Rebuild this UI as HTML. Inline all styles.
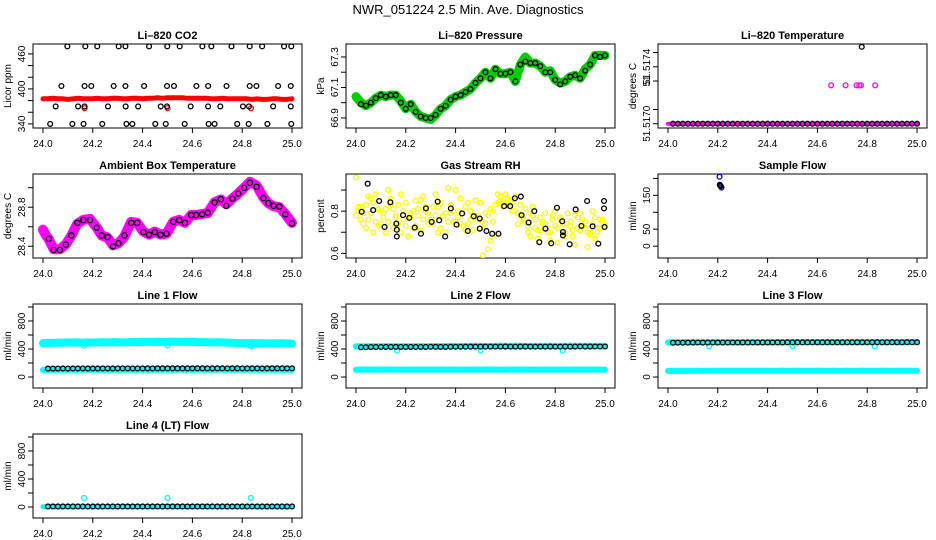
<!DOCTYPE html>
<html><head><meta charset="utf-8"><title>NWR_051224 2.5 Min. Ave. Diagnostics</title>
<style>
html,body{margin:0;padding:0;background:#fff;}
svg{display:block;font-family:"Liberation Sans",Arial,sans-serif;}
</style></head>
<body>
<svg id="chart" width="936" height="540" viewBox="0 0 936 540" xmlns="http://www.w3.org/2000/svg">
<rect width="936" height="540" fill="#fff"/>
<text x="468" y="14" text-anchor="middle" font-size="13">NWR_051224  2.5 Min. Ave. Diagnostics</text>
</svg>
<script>
// ---- data ----
const t51 = [24.00,24.02,24.04,24.06,24.08,24.10,24.12,24.14,24.16,24.18,24.20,24.22,24.24,24.26,24.28,24.30,24.32,24.34,24.36,24.38,24.40,24.42,24.44,24.46,24.48,24.50,24.52,24.54,24.56,24.58,24.60,24.62,24.64,24.66,24.68,24.70,24.72,24.74,24.76,24.78,24.80,24.82,24.84,24.86,24.88,24.90,24.92,24.94,24.96,24.98,25.00];
const tHalf = [24.01,24.03,24.05,24.07,24.09,24.11,24.13,24.15,24.17,24.19,24.21,24.23,24.25,24.27,24.29,24.31,24.33,24.35,24.37,24.39,24.41,24.43,24.45,24.47,24.49,24.51,24.53,24.55,24.57,24.59,24.61,24.63,24.65,24.67,24.69,24.71,24.73,24.75,24.77,24.79,24.81,24.83,24.85,24.87,24.89,24.91,24.93,24.95,24.97,24.99];
const xTicks = [24.0,24.2,24.4,24.6,24.8,25.0];
const xTickLabels = ["24.0","24.2","24.4","24.6","24.8","25.0"];

// CO2
const co2RedV = [383,383,384,383,383,382,383,384,383,383,383,384,383,383,384,384,383,383,384,384,383,384,384,385,384,385,385,385,385,384,384,384,384,384,383,383,384,383,383,383,383,383,382,383,382,382,383,383,382,382,383];
const co2RedOutT = [24.167,24.500,24.835];
const co2RedOutV = [367,367,367];
const co2BlackT = [24.098,24.170,24.218,24.304,24.331,24.426,24.499,24.549,24.640,24.676,24.757,24.830,24.880,24.968,24.997,
 24.074,24.167,24.194,24.284,24.331,24.406,24.498,24.526,24.616,24.663,24.737,24.830,24.857,24.944,24.995,
 24.051,24.141,24.167,24.261,24.332,24.382,24.473,24.498,24.593,24.663,24.712,24.803,24.827,24.924,24.995,
 24.029,24.118,24.163,24.238,24.335,24.359,24.451,24.493,24.569,24.665,24.689,24.780,24.826,24.901,24.997];
const co2BlackV = [473,473,473,473,473,473,473,473,473,473,473,473,473,473,473,
 405,405,405,405,405,405,405,405,405,405,405,405,405,405,405,
 370,370,370,370,370,370,370,370,370,370,370,370,370,370,370,
 340,340,340,340,340,340,340,340,340,340,340,340,340,340,340];

// Pressure
const presGreenV = [67.04,67.00,66.98,67.00,67.03,67.05,67.04,67.05,67.05,67.01,66.96,66.99,66.94,66.91,66.90,66.89,66.92,66.96,66.98,67.02,67.04,67.05,67.07,67.09,67.13,67.16,67.20,67.16,67.22,67.19,67.19,67.20,67.14,67.25,67.30,67.26,67.26,67.24,67.20,67.21,67.15,67.13,67.14,67.17,67.18,67.16,67.22,67.25,67.31,67.31,67.31];
const presBlackV = [66.99,66.98,67.00,67.03,67.05,67.04,67.05,67.05,67.00,66.96,66.99,66.94,66.91,66.90,66.90,66.92,66.96,66.98,67.02,67.04,67.05,67.07,67.09,67.13,67.16,67.20,67.16,67.22,67.19,67.19,67.20,67.14,67.25,67.27,67.26,67.26,67.24,67.20,67.20,67.15,67.12,67.14,67.17,67.18,67.16,67.21,67.25,67.31,67.30,67.31];

// Li-820 temperature
const ltMagV = [51.5170,51.5170,51.5170,51.5170,51.5170,51.5170,51.5170,51.5170,51.5170,51.5170,51.5170,51.5170,51.5170,51.5170,51.5170,51.5170,51.5170,51.5170,51.5170,51.5170,51.5170,51.5170,51.5170,51.5170,51.5170,51.5170,51.5170,51.5170,51.5170,51.5170,51.5170,51.5170,51.5170,51.5170,51.5170,51.5170,51.5170,51.5170,51.5170,51.5170,51.5170,51.5170,51.5170,51.5170,51.5170,51.5170,51.5170,51.5170,51.5170,51.5170,51.5170];
const ltMagOutT = [24.655,24.713,24.757,24.768,24.775,24.832];
const ltMagOutV = [51.51727,51.51727,51.51727,51.51727,51.51727,51.51727];
const ltBlackV = [51.5170,51.5170,51.5170,51.5170,51.5170,51.5170,51.5170,51.5170,51.5170,51.5170,51.5170,51.5170,51.5170,51.5170,51.5170,51.5170,51.5170,51.5170,51.5170,51.5170,51.5170,51.5170,51.5170,51.5170,51.5170,51.5170,51.5170,51.5170,51.5170,51.5170,51.5170,51.5170,51.5170,51.5170,51.5170,51.5170,51.5170,51.5170,51.5170,51.5170,51.5170,51.5170,51.5170,51.5170,51.5170,51.5170,51.5170,51.5170,51.5170,51.5170];
const ltBlackOutT = [24.778];
const ltBlackOutV = [51.51754];

// Ambient box temperature
const ambT = [24.000,24.010,24.024,24.043,24.068,24.092,24.114,24.138,24.162,24.189,24.216,24.236,24.259,24.281,24.303,24.327,24.354,24.378,24.403,24.426,24.449,24.472,24.496,24.523,24.547,24.570,24.595,24.615,24.639,24.662,24.689,24.714,24.736,24.761,24.784,24.808,24.831,24.858,24.885,24.905,24.926,24.949,24.973,25.000];
const ambMagV = [28.57,28.52,28.47,28.37,28.37,28.42,28.51,28.63,28.67,28.68,28.59,28.51,28.49,28.41,28.43,28.50,28.65,28.64,28.55,28.52,28.55,28.52,28.53,28.65,28.67,28.64,28.72,28.72,28.73,28.74,28.85,28.88,28.83,28.89,28.94,29.00,29.06,29.02,28.90,28.84,28.81,28.80,28.73,28.64];
const ambBlackT = [24.024,24.043,24.068,24.092,24.114,24.138,24.162,24.189,24.216,24.236,24.259,24.281,24.303,24.327,24.354,24.378,24.403,24.426,24.449,24.472,24.496,24.523,24.547,24.570,24.595,24.615,24.639,24.662,24.689,24.714,24.736,24.761,24.784,24.808,24.831,24.858,24.885,24.905,24.926,24.949,24.973,25.000];
const ambBlackV = [28.477,28.362,28.362,28.417,28.511,28.640,28.668,28.668,28.591,28.511,28.494,28.400,28.431,28.511,28.640,28.640,28.546,28.518,28.546,28.518,28.529,28.650,28.668,28.640,28.720,28.720,28.727,28.744,28.849,28.883,28.814,28.887,28.939,28.998,29.050,29.009,28.894,28.842,28.814,28.807,28.727,28.633];

// Gas stream RH
const rhYA = [0.96,0.76,0.83,0.79,0.88,0.74,0.81,0.86,0.78,0.70,0.84,0.77,0.73,0.85,0.80,0.76,0.88,0.72,0.79,0.83,0.75,0.86,0.71,0.80,0.77,0.84,0.74,0.81,0.69,0.87,0.86,0.85,0.80,0.83,0.75,0.79,0.72,0.77,0.74,0.70,0.80,0.76,0.68,0.73,0.78,0.71,0.75,0.69,0.77,0.72,0.74];
const rhYB = [0.78,0.82,0.72,0.86,0.75,0.80,0.70,0.83,0.77,0.88,0.73,0.79,0.85,0.71,0.82,0.76,0.78,0.84,0.70,0.79,0.90,0.74,0.82,0.76,0.85,0.72,0.79,0.66,0.83,0.85,0.88,0.82,0.87,0.78,0.81,0.68,0.76,0.71,0.79,0.66,0.73,0.77,0.70,0.75,0.64,0.79,0.72,0.70,0.67,0.76,0.73];
const rhYC = [0.80,0.74,0.87,0.70,0.81,0.77,0.90,0.72,0.83,0.76,0.68,0.80,0.78,0.87,0.74,0.82,0.70,0.77,0.91,0.75,0.80,0.73,0.84,0.71,0.78,0.75,0.62,0.80,0.88,0.84,0.86,0.80,0.74,0.77,0.70,0.82,0.67,0.75,0.72,0.78,0.65,0.74,0.79,0.68,0.72,0.76,0.63,0.80,0.70,0.75];
const rhYD = [0.82,0.79,0.76,0.84,0.73,0.79,0.75,0.81,0.74,0.80,0.77,0.72,0.81,0.76,0.79,0.74,0.82,0.78,0.75,0.80,0.77,0.79,0.74,0.78,0.76,0.59,0.78,0.75,0.84,0.82,0.83,0.84,0.79,0.76,0.73,0.78,0.71,0.74,0.70,0.76,0.72,0.69,0.74,0.71,0.77,0.73,0.70,0.74,0.72,0.76];
const rhBlackT = [24.023,24.047,24.069,24.093,24.115,24.138,24.162,24.164,24.164,24.189,24.214,24.236,24.261,24.281,24.304,24.328,24.334,24.358,24.381,24.404,24.426,24.449,24.473,24.497,24.497,24.524,24.547,24.572,24.595,24.619,24.638,24.662,24.665,24.693,24.716,24.736,24.761,24.784,24.807,24.828,24.831,24.831,24.858,24.882,24.905,24.928,24.950,24.973,24.996,24.996,24.998];
const rhBlackV = [0.797,0.930,0.805,0.848,0.725,0.842,0.741,0.712,0.680,0.781,0.768,0.722,0.693,0.813,0.749,0.845,0.757,0.680,0.813,0.736,0.789,0.706,0.776,0.765,0.717,0.706,0.693,0.693,0.824,0.824,0.861,0.869,0.781,0.746,0.800,0.653,0.717,0.648,0.816,0.752,0.701,0.685,0.643,0.808,0.730,0.848,0.728,0.646,0.848,0.813,0.725];

// Sample flow
const sfBlueT = [24.207,24.215];
const sfBlueV = [205,173];
const sfBlackT = [24.208,24.210,24.212];
const sfBlackV = [181,179,177];

// Line flows
const l1HighV = [485,490,488,492,490,495,493,496,490,494,492,495,497,494,498,496,495,497,500,499,502,503,500,504,502,505,506,503,505,502,504,500,498,497,495,496,494,492,490,486,484,483,485,482,484,480,482,483,481,480,478];
const l1LowV = [102,103,102,104,103,104,103,104,103,104,104,104,105,104,104,104,105,104,105,105,104,105,105,105,104,105,105,105,105,105,106,105,105,105,105,105,104,105,104,105,104,104,104,105,104,104,103,104,104,104,103];
const l1BlackV = [120,121,121,122,121,122,122,123,122,122,122,123,123,122,123,123,123,123,123,123,124,123,124,124,124,124,124,124,124,124,124,124,124,124,124,124,123,124,124,123,124,124,124,123,124,124,124,124,124,124];
const l1OutT = [24.165,24.500,24.835];
const l1OutV = [445,450,440];

const l2HighV = [440,438,440,439,441,440,442,441,440,440,441,440,441,442,440,441,442,441,443,444,442,443,444,445,444,444,443,445,444,446,444,445,446,445,444,445,444,445,446,444,445,445,444,446,445,445,444,445,444,445,444];
const l2LowV = [106,106,107,106,106,107,106,107,106,106,106,107,106,106,107,106,106,107,106,106,107,106,106,106,107,106,106,107,106,106,106,107,106,106,107,106,106,106,107,106,106,107,106,106,107,106,106,107,106,106,106];
const l2BlackV = [425,426,428,428,429,430,430,431,430,429,430,429,430,430,432,431,430,430,431,432,432,433,433,434,434,434,434,434,434,435,434,434,435,435,434,434,434,434,435,434,434,435,434,435,436,435,435,436,436,436];
const l2OutT = [24.165,24.500,24.830];
const l2OutV = [375,378,375];

const l3HighV = [495,496,494,496,495,497,496,495,497,496,496,497,496,497,496,497,497,496,497,497,498,497,497,498,497,498,498,497,498,499,498,498,499,498,498,499,498,498,499,498,498,499,498,499,498,499,499,498,499,499,498];
const l3LowV = [88,89,88,89,88,89,89,88,89,89,90,89,89,90,90,89,90,90,89,90,90,90,90,91,90,90,91,90,90,90,91,90,90,91,90,90,91,90,90,91,90,90,90,91,90,90,90,89,90,90,89];
const l3BlackV = [490,491,491,492,492,493,492,493,493,492,493,493,493,493,494,493,494,494,494,494,494,495,494,495,495,495,495,495,495,496,495,496,496,495,496,496,496,496,496,496,496,497,496,496,497,496,496,497,497,497];
const l3OutT = [24.165,24.500,24.830];
const l3OutV = [440,440,440];

const l4CyanV = [5,5,5,5,5,5,5,5,5,5,5,5,5,5,5,5,5,5,5,5,5,5,5,5,5,5,5,5,5,5,5,5,5,5,5,5,5,5,5,5,5,5,5,5,5,5,5,5,5,5,5];
const l4BlackV = [8,8,8,8,8,8,8,8,8,8,8,8,8,8,8,8,8,8,8,8,8,8,8,8,8,8,8,8,8,8,8,8,8,8,8,8,8,8,8,8,8,8,8,8,8,8,8,8,8,8];
const l4OutT = [24.165,24.500,24.835];
const l4OutV = [130,130,130];

// ---- drawing ----
const NS = "http://www.w3.org/2000/svg";
const svg = document.getElementById("chart");
const colLeft = [33, 346, 658];
const rowTop = [44, 174, 304, 434];
const BW = 269, BH = 84;
const XMIN = 23.96, XMAX = 25.04;

function el(tag, attrs, parent) {
  const e = document.createElementNS(NS, tag);
  for (const k in attrs) e.setAttribute(k, attrs[k]);
  parent.appendChild(e);
  return e;
}

function panel(name, col, row, title, ylab, ymin, ymax, yTicks, yLabels) {
  const L = colLeft[col], T = rowTop[row];
  const g = el("g", {}, svg);
  
  
  const sx = v => L + (v - XMIN) / (XMAX - XMIN) * BW;
  const sy = v => T + BH - (v - ymin) / (ymax - ymin) * BH;
  const box = el("rect", {x: L, y: T, width: BW, height: BH, fill: "none", stroke: "#000", "stroke-width": 1}, g);
  
  
  const tt = el("text", {x: L + BW / 2, y: T - 5, "text-anchor": "middle", "font-size": 11, "font-weight": "bold"}, g);
  tt.textContent = title;
  
  
  // x axis
  const xa = el("g", {}, g);
  
  
  xTicks.forEach((v, i) => {
    el("line", {x1: sx(v), x2: sx(v), y1: T + BH, y2: T + BH + 5, stroke: "#000"}, xa);
    const lt = el("text", {x: sx(v), y: T + BH + 19, "text-anchor": "middle", "font-size": 10}, xa);
    lt.textContent = xTickLabels[i];
    
    
  });
  // y axis
  const ya = el("g", {}, g);
  
  
  yTicks.forEach((v, i) => {
    const y = sy(v);
    el("line", {x1: L - 5, x2: L, y1: y, y2: y, stroke: "#000"}, ya);
    if (yLabels[i]) {
      const lt = el("text", {x: L - 8, y: y, "text-anchor": "middle", "font-size": 10, transform: `rotate(-90 ${L - 8} ${y})`}, ya);
      lt.textContent = yLabels[i];
      
      
    }
  });
  const yt = el("text", {x: L - 22, y: T + BH / 2, "text-anchor": "middle", "font-size": 10, transform: `rotate(-90 ${L - 22} ${T + BH / 2})`}, g);
  yt.textContent = ylab;
  
  
  const clip = "clip-" + name;
  const cp = el("clipPath", {id: clip}, g);
  el("rect", {x: L, y: T, width: BW, height: BH}, cp);
  const plot = el("g", {"clip-path": `url(#${clip})`}, g);
  
  
  return {g: plot, sx, sy};
}

function points(p, ts, vs, color, name, r) {
  const grp = el("g", {}, p.g);
  
  
  const n = Math.min(ts.length, vs.length);
  for (let i = 0; i < n; i++) {
    const c = el("circle", {cx: p.sx(ts[i]), cy: p.sy(vs[i]), r: r || 2.4, fill: "none", stroke: color, "stroke-width": 1.3}, grp);
    
    
  }
}

function band(p, ts, vs, color, name, w) {
  const n = Math.min(ts.length, vs.length);
  let d = "";
  for (let i = 0; i < n; i++) d += (i ? "L" : "M") + p.sx(ts[i]).toFixed(1) + " " + p.sy(vs[i]).toFixed(1);
  const path = el("path", {d: d, fill: "none", stroke: color, "stroke-width": w, "stroke-linejoin": "round", "stroke-linecap": "round"}, p.g);
  
  
}

const tB = t51.slice(1);

// Li-820 CO2
let p = panel("co2", 0, 0, "Li\u2013820 CO2", "Licor ppm", 333, 477, [340,360,380,400,420,440,460], ["340","","","400","","","460"]);
band(p, t51, co2RedV, "#ff0000", "co2-red-band", 5);
points(p, co2RedOutT, co2RedOutV, "#ff0000", "co2-red-outliers");
points(p, co2BlackT, co2BlackV, "#000", "co2-black-series");

// Pressure
p = panel("pressure", 1, 0, "Li\u2013820 Pressure", "kPa", 66.834, 67.385, [66.9,67.0,67.1,67.2,67.3], ["66.9","","67.1","","67.3"]);
band(p, t51, presGreenV, "#00cc00", "pressure-green-band", 9);
points(p, t51, presGreenV, "#00cc00", "pressure-green-series", 3);
points(p, tB, presBlackV, "#000", "pressure-black-series");

// Li-820 temperature
p = panel("li-temp", 2, 0, "Li\u2013820 Temperature", "degrees C", 51.51697, 51.51756, [51.5170,51.5171,51.5173,51.5174,51.5175], ["51.5170","","51","51.5174",""]);
band(p, t51, ltMagV, "#ff00ff", "li-temp-magenta-band", 4);
points(p, ltMagOutT, ltMagOutV, "#ff00ff", "li-temp-magenta-outliers");
points(p, tB, ltBlackV, "#000", "li-temp-black-series");
points(p, ltBlackOutT, ltBlackOutV, "#000", "li-temp-black-outlier");

// Ambient box temperature
p = panel("ambient", 0, 1, "Ambient Box Temperature", "degrees C", 28.28, 29.14, [28.4,28.6,28.8,29.0], ["28.4","","28.8",""]);
band(p, ambT, ambMagV, "#ff00ff", "ambient-magenta-band", 10);
points(p, ambT, ambMagV, "#ff00ff", "ambient-magenta-series", 3);
points(p, ambBlackT, ambBlackV, "#000", "ambient-black-series", 2.6);

// Gas stream RH
p = panel("rh", 1, 1, "Gas Stream RH", "percent", 0.578, 0.976, [0.6,0.7,0.8,0.9], ["0.6","","0.8",""]);
points(p, t51, rhYA, "#ffff00", "rh-yellow-series-a");
points(p, t51, rhYB, "#ffff00", "rh-yellow-series-b");
points(p, tHalf, rhYC, "#ffff00", "rh-yellow-series-c");
points(p, tHalf, rhYD, "#ffff00", "rh-yellow-series-d");
points(p, rhBlackT, rhBlackV, "#000", "rh-black-series");

// Sample flow
p = panel("sample-flow", 2, 1, "Sample Flow", "ml/min", -35, 213, [0,50,100,150,200], ["0","50","","150",""]);
points(p, sfBlueT, sfBlueV, "#0000ff", "sample-flow-blue-series");
points(p, sfBlackT, sfBlackV, "#000", "sample-flow-black-series");

const flowTicks = [0,200,400,600,800,1000];
const flowLabels = ["0","","400","","800",""];
// Line 1
p = panel("line1", 0, 2, "Line 1 Flow", "ml/min", -157, 1043, flowTicks, flowLabels);
band(p, t51, l1HighV, "#00ffff", "line1-cyan-high-band", 8);
band(p, t51, l1LowV, "#00ffff", "line1-cyan-low-band", 6);
points(p, l1OutT, l1OutV, "#00ffff", "line1-cyan-outliers");
points(p, tB, l1BlackV, "#000", "line1-black-series");
// Line 2
p = panel("line2", 1, 2, "Line 2 Flow", "ml/min", -157, 1043, flowTicks, flowLabels);
band(p, t51, l2HighV, "#00ffff", "line2-cyan-high-band", 6);
band(p, t51, l2LowV, "#00ffff", "line2-cyan-low-band", 6);
points(p, l2OutT, l2OutV, "#00ffff", "line2-cyan-outliers");
points(p, tB, l2BlackV, "#000", "line2-black-series");
// Line 3
p = panel("line3", 2, 2, "Line 3 Flow", "ml/min", -157, 1043, flowTicks, flowLabels);
band(p, t51, l3HighV, "#00ffff", "line3-cyan-high-band", 6);
band(p, t51, l3LowV, "#00ffff", "line3-cyan-low-band", 6);
points(p, l3OutT, l3OutV, "#00ffff", "line3-cyan-outliers");
points(p, tB, l3BlackV, "#000", "line3-black-series");
// Line 4
p = panel("line4", 0, 3, "Line 4 (LT) Flow", "ml/min", -157, 1043, flowTicks, flowLabels);
band(p, t51, l4CyanV, "#00ffff", "line4-cyan-band", 5);
points(p, l4OutT, l4OutV, "#00ffff", "line4-cyan-outliers");
points(p, tB, l4BlackV, "#000", "line4-black-series");
</script>
</body></html>
